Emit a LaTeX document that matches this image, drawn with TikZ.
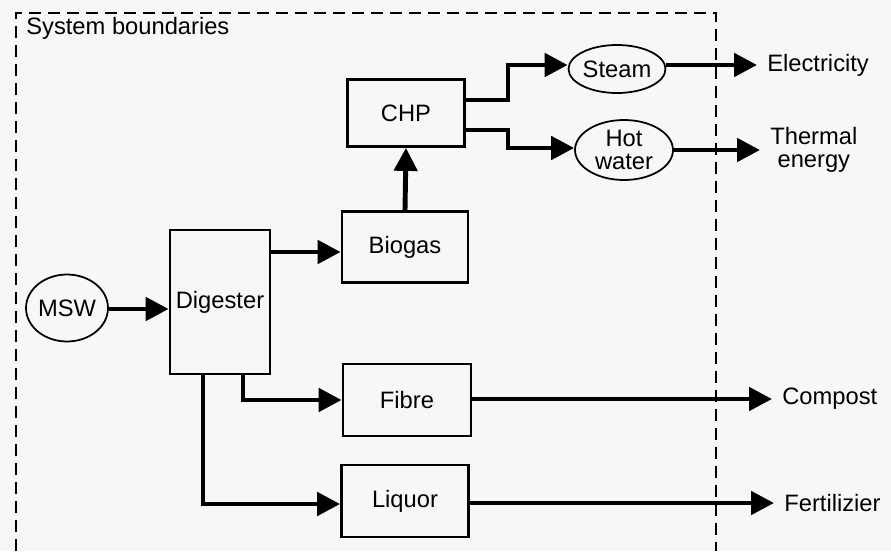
\documentclass[tikz,border=0pt]{standalone}
\usepackage{fontspec}
\setmainfont{Liberation Sans}
\usetikzlibrary{shapes.geometric,arrows.meta,positioning,calc}
\definecolor{paper}{HTML}{F7F7F7}

\begin{document}
\begin{tikzpicture}[
  x=0.02cm, y=-0.02cm,
  font=\fontsize{13.5}{15}\selectfont,
  unit/.style ={draw,line width=1.6pt,inner sep=0pt,align=center},
  blob/.style ={ellipse,draw,line width=1pt,inner sep=0pt,align=center},
  flow/.style ={line width=2.8pt,-{Triangle[length=0.46cm,width=0.46cm]}},
  outtxt/.style={anchor=west,inner sep=0.2cm,align=center},
  border/.style={line width=1.5pt,dash pattern=on 0.25cm off 0.13cm}
]
%% canvas (pixel grid of the reference)
\fill[paper] (0,0) rectangle (891,551);
\useasboundingbox (0,0) rectangle (891,551);

%% system boundaries
\draw[border] (16,551) -- (16,13) -- (716,13) -- (716,551);
\node[anchor=west,inner sep=0pt] (sysb) at (26,28) {System boundaries};

%% process units
\node[blob] (msw) at (67,308)
  [minimum width=1.5cm,minimum height=1.34cm] {MSW};
\node[unit] (dig) at (220,302)
  [minimum width=2.0cm,minimum height=2.88cm] {Digester};
\node[unit] (bio) at (405,247)
  [minimum width=2.52cm,minimum height=1.42cm] {Biogas};
\node[unit] (chp) at (406,113)
  [minimum width=2.34cm,minimum height=1.34cm] {CHP};
\node[unit] (fib) at (407,400)
  [minimum width=2.56cm,minimum height=1.44cm] {Fibre};
\node[unit] (liq) at (405,501)
  [minimum width=2.54cm,minimum height=1.44cm] {Liquor};
\node[blob] (stm) at (617,69)
  [minimum width=1.86cm,minimum height=0.96cm] {Steam};
\node[blob] (hot) at (624,150)
  [minimum width=1.96cm,minimum height=1.2cm] {Hot\\[-2pt]water};

%% products outside the boundary
\node[outtxt] (ele) at (757,65)  {Electricity};
\node[outtxt] (the) at (760,150) {Thermal\\[-2pt]energy};
\node[outtxt] (com) at (772,399) {Compost};
\node[outtxt] (fer) at (774,503) {Fertilizier};

%% flows
\draw[flow] (msw.east |- 0,309) -- (dig.west |- 0,309);
\draw[flow] (dig.east |- 0,252) -- (bio.west |- 0,252);
\draw[flow] (bio.north) -- (chp.south);

%% CHP splits into steam and hot water
\draw[flow] ($(chp.east)+(0,-13)$) -- (508,100) -- (508,65) -- (stm.west |- 0,65);
\draw[flow] ($(chp.east)+(0,17)$)  -- (508,130) -- (508,148) -- (hot.west |- 0,148);

%% digestate streams
\draw[flow] (dig.south -| 243,0) -- (243,400) -- (fib.west);
\draw[flow] (dig.south -| 203,0) -- (203,504) -- (liq.west |- 0,504);

%% out of the system
\draw[flow] (stm.east |- ele.west) -- (ele.west);
\draw[flow] (hot.east) -- (the.west);
\draw[flow] (fib.east |- com.west) -- (com.west);
\draw[flow] (liq.east |- fer.west) -- (fer.west);
\end{tikzpicture}
\end{document}
